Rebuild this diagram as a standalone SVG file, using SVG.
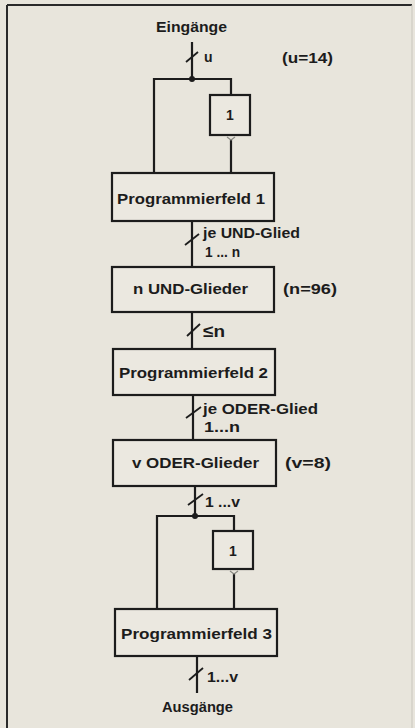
<svg xmlns="http://www.w3.org/2000/svg" width="415" height="728" viewBox="0 0 415 728">
<defs>
<style>
.bg{fill:#e8e5dc}
.box{fill:#ebe8e0;stroke:#1c1c1c;stroke-width:2.2}
.ln{fill:none;stroke:#1c1c1c;stroke-width:2.2}
.sl{fill:none;stroke:#1c1c1c;stroke-width:1.8}
.inv{fill:none;stroke:#8a8a84;stroke-width:1.2}
text{font-family:"Liberation Sans","DejaVu Sans",sans-serif;font-weight:bold;fill:#1c1c1c;font-size:14px}
.c{text-anchor:middle}
.big{font-size:17px}
</style>
</defs>
<rect class="bg" x="0" y="0" width="415" height="728"/>
<g id="frame">
<line x1="7" y1="5" x2="412" y2="5" stroke="#2a2a2a" stroke-width="2"/>
<line x1="7" y1="5" x2="7" y2="728" stroke="#2a2a2a" stroke-width="2"/>
<line x1="412" y1="5" x2="412" y2="728" stroke="#c9c6bd" stroke-width="1"/>
</g>
<g id="connectors">
<path class="ln" d="M192 42 V79"/>
<path class="ln" d="M154 173 V79 H231 V95"/>
<path class="ln" d="M231 139 V173"/>
<path class="ln" d="M192 221 V267"/>
<path class="ln" d="M192 312 V349"/>
<path class="ln" d="M193 395 V440"/>
<path class="ln" d="M195 486 V516"/>
<path class="ln" d="M157 609 V516 H234 V531"/>
<path class="ln" d="M234 573 V609"/>
<path class="ln" d="M197 656 V693"/>
<circle cx="192" cy="79" r="3" fill="#1c1c1c"/>
<circle cx="195" cy="516" r="3" fill="#1c1c1c"/>
<path class="sl" d="M186 62 L198 52"/>
<path class="sl" d="M185 245 L199 234"/>
<path class="sl" d="M187 336 L200 324"/>
<path class="sl" d="M186 418 L201 407"/>
<path class="sl" d="M188 505 L203 494"/>
<path class="sl" d="M189 680 L203 668"/>
<path class="inv" d="M227 137 L231 140 L235 137"/>
<path class="inv" d="M230 571 L234 574 L238 571"/>
</g>
<g id="labels">
<text class="c" x="191.5" y="32" textLength="71" lengthAdjust="spacingAndGlyphs">Eingänge</text>
<text x="204" y="62">u</text>
<text x="282" y="63" textLength="51" lengthAdjust="spacingAndGlyphs">(u=14)</text>
<text x="203" y="238" textLength="97" lengthAdjust="spacingAndGlyphs">je UND-Glied</text>
<text x="205" y="257" textLength="35" lengthAdjust="spacingAndGlyphs">1 ... n</text>
<text x="283" y="294" textLength="54" lengthAdjust="spacingAndGlyphs">(n=96)</text>
<text class="big" x="203" y="337" textLength="22" lengthAdjust="spacingAndGlyphs">≤n</text>
<text x="203" y="414" textLength="115" lengthAdjust="spacingAndGlyphs">je ODER-Glied</text>
<text x="204" y="432" textLength="36" lengthAdjust="spacingAndGlyphs">1...n</text>
<text x="285" y="468" textLength="46" lengthAdjust="spacingAndGlyphs">(v=8)</text>
<text x="205" y="507" textLength="35" lengthAdjust="spacingAndGlyphs">1 ...v</text>
<text x="207" y="682" textLength="31" lengthAdjust="spacingAndGlyphs">1...v</text>
<text class="c" x="197.5" y="712" textLength="71" lengthAdjust="spacingAndGlyphs">Ausgänge</text>
</g>
<g id="inv1">
<rect class="box" x="210" y="95" width="40" height="40"/>
<text class="c" x="230" y="120">1</text>
</g>
<g id="pf1">
<rect class="box" x="112" y="173" width="162" height="48"/>
<text x="117" y="204" textLength="148" lengthAdjust="spacingAndGlyphs">Programmierfeld 1</text>
</g>
<g id="und">
<rect class="box" x="112" y="267" width="162" height="45"/>
<text x="133" y="294" textLength="115" lengthAdjust="spacingAndGlyphs">n UND-Glieder</text>
</g>
<g id="pf2">
<rect class="box" x="113" y="349" width="162" height="46"/>
<text x="119" y="378" textLength="149" lengthAdjust="spacingAndGlyphs">Programmierfeld 2</text>
</g>
<g id="oder">
<rect class="box" x="113" y="440" width="163" height="46"/>
<text x="132" y="468" textLength="127" lengthAdjust="spacingAndGlyphs">v ODER-Glieder</text>
</g>
<g id="inv2">
<rect class="box" x="213" y="531" width="40" height="38"/>
<text class="c" x="233" y="556">1</text>
</g>
<g id="pf3">
<rect class="box" x="115" y="609" width="162" height="47"/>
<text x="121" y="639" textLength="151" lengthAdjust="spacingAndGlyphs">Programmierfeld 3</text>
</g>
</svg>
